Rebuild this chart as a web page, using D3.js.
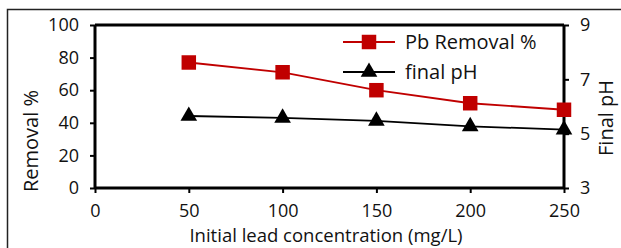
<!DOCTYPE html>
<html>
<head>
<meta charset="utf-8">
<script src="https://cdn.jsdelivr.net/npm/d3@7"></script>
<style>
  body { margin: 0; background: #fff; }
  svg text { font-family: "Open Sans", sans-serif; fill: #111; }
</style>
</head>
<body>
<div id="chart"></div>
<script>
// chart values
const concentrations = [50, 100, 150, 200, 250];
const pbRemoval = [77, 71, 60, 52, 48];
const finalPH = [5.65, 5.58, 5.47, 5.27, 5.15];
const xTicks = [0, 50, 100, 150, 200, 250];
const leftTicks = [0, 20, 40, 60, 80, 100];
const rightTicks = [3, 5, 7, 9];
const seriesNames = ['Pb Removal %', 'final pH'];

var width = 621, height = 248;
var margins = {top: 25, bottom: 60, left: 95, right: 57};
var plotW = width - margins.left - margins.right;
var plotH = height - margins.top - margins.bottom;
var tickFont = '18px', titleFont = '20px';

var svg = d3.select('#chart')
    .append('svg')
    .attr('width', width)
    .attr('height', height);

// outer frame
svg.append('rect')
    .attr('x', 7.5).attr('y', 9.5)
    .attr('width', 640).attr('height', 260)
    .style('fill', 'none')
    .style('stroke', '#222')
    .style('stroke-width', 1.5);

var g = svg.append('g')
    .attr('transform', 'translate(' + margins.left + ',' + margins.top + ')');

var x = d3.scaleLinear().domain([0, 250]).range([0, plotW]);
var yLeft = d3.scaleLinear().domain([0, 100]).range([plotH, 0]);
var yRight = d3.scaleLinear().domain([3, 9]).range([plotH, 0]);

// top edge of the plot box
g.append('line')
    .attr('x1', 0).attr('x2', plotW)
    .attr('y1', 0).attr('y2', 0)
    .style('stroke', '#000').style('stroke-width', 3);

var xAxis = g.append('g')
    .attr('transform', 'translate(0,' + plotH + ')')
    .call(d3.axisBottom(x).tickValues(xTicks).tickSize(5).tickPadding(11));

var leftAxis = g.append('g')
    .call(d3.axisLeft(yLeft).tickValues(leftTicks).tickSize(5).tickPadding(11));

var rightAxis = g.append('g')
    .attr('transform', 'translate(' + plotW + ',0)')
    .call(d3.axisRight(yRight).tickValues(rightTicks).tickFormat(d3.format('d')).tickSize(5).tickPadding(11));

[xAxis, leftAxis, rightAxis].forEach(function(a) {
    a.select('.domain').style('stroke', '#000').style('stroke-width', 3);
    a.selectAll('.tick line').style('stroke', '#000').style('stroke-width', 2);
    a.selectAll('.tick text').style('font-size', tickFont).style('fill', '#111');
});
// no outer tick stubs on the domain paths
xAxis.select('.domain').attr('d', 'M0,0H' + plotW);
leftAxis.select('.domain').attr('d', 'M0,0V' + plotH);
rightAxis.select('.domain').attr('d', 'M0,0V' + plotH);

// axis titles
svg.append('text')
    .attr('x', 326)
    .attr('y', 242)
    .style('text-anchor', 'middle')
    .style('font-size', '18.5px')
    .text('Initial lead concentration (mg/L)');

svg.append('text')
    .attr('transform', 'translate(38,141) rotate(-90)')
    .style('text-anchor', 'middle')
    .style('font-size', titleFont)
    .text('Removal %');

svg.append('text')
    .attr('transform', 'translate(613,118) rotate(-90)')
    .style('text-anchor', 'middle')
    .style('font-size', titleFont)
    .text('Final pH');

// series
var pbData = concentrations.map(function(c, i) { return {x: c, y: pbRemoval[i]}; });
var phData = concentrations.map(function(c, i) { return {x: c, y: finalPH[i]}; });

var red = '#c00000';

g.append('path')
    .datum(phData)
    .attr('d', d3.line().x(function(d) { return x(d.x); }).y(function(d) { return yRight(d.y); }))
    .style('fill', 'none').style('stroke', '#000').style('stroke-width', 1.8);

g.append('path')
    .datum(pbData)
    .attr('d', d3.line().x(function(d) { return x(d.x); }).y(function(d) { return yLeft(d.y); }))
    .style('fill', 'none').style('stroke', red).style('stroke-width', 1.8);

var tri = d3.symbol().type(d3.symbolTriangle).size(120);
var sq = d3.symbol().type(d3.symbolSquare).size(210);

g.selectAll('.tri')
    .data(phData)
    .enter().append('path')
    .attr('class', 'tri')
    .attr('d', tri)
    .attr('transform', function(d) { return 'translate(' + x(d.x) + ',' + yRight(d.y) + ')'; })
    .style('fill', '#000');

g.selectAll('.sq')
    .data(pbData)
    .enter().append('path')
    .attr('class', 'sq')
    .attr('d', sq)
    .attr('transform', function(d) { return 'translate(' + x(d.x) + ',' + yLeft(d.y) + ')'; })
    .style('fill', red);

// legend
var legend = svg.append('g');
var legendRows = [
    {name: seriesNames[0], color: red, sym: sq, y: 42},
    {name: seriesNames[1], color: '#000', sym: tri, y: 72}
];
legendRows.forEach(function(r) {
    legend.append('line')
        .attr('x1', 343).attr('x2', 395)
        .attr('y1', r.y).attr('y2', r.y)
        .style('stroke', r.color).style('stroke-width', 1.8);
    legend.append('path')
        .attr('d', r.sym)
        .attr('transform', 'translate(369,' + r.y + ')')
        .style('fill', r.color);
    legend.append('text')
        .attr('x', 405).attr('y', r.y + 7)
        .style('font-size', titleFont)
        .text(r.name);
});
</script>
</body>
</html>
